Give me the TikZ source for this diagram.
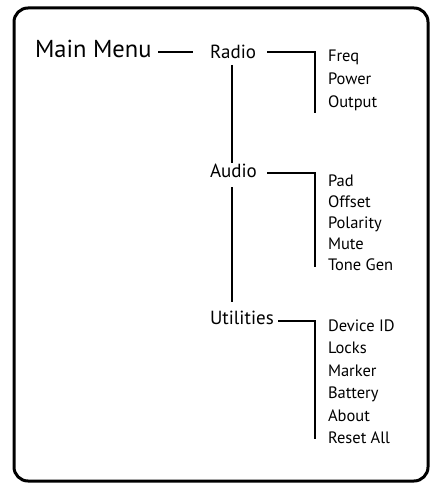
\documentclass[tikz,border=0pt]{standalone}
\usepackage{fontspec}
\setmainfont{PT Sans}
\begin{document}
\begin{tikzpicture}[x=1pt,y=-1pt,
  lbl/.style={anchor=base west,inner sep=0pt,outer sep=0pt},
  top/.style={lbl,font=\fontsize{24.5}{24.5}\selectfont},
  mid/.style={lbl,font=\fontsize{19}{19}\selectfont},
  leaf/.style={lbl,font=\fontsize{16.5}{16.5}\selectfont},
  conn/.style={line width=1.6pt}]
\useasboundingbox (0,0) rectangle (436,489);
\draw[line width=3pt,rounded corners=14pt] (14,8) rectangle (428,481);
\node[top] (main) at (35,58) {Main Menu};
\node[mid] (radio) at (210,59) {Radio};
\node[mid] (audio) at (210,177) {Audio};
\node[mid] (util) at (210,324) {Utilities};
\node[leaf] (freq) at (328,62) {Freq};
\node[leaf] (power) at (328,85) {Power};
\node[leaf] (output) at (328,108) {Output};
\node[leaf] (pad) at (328,186) {Pad};
\node[leaf] (offset) at (328,207) {Offset};
\node[leaf] (polarity) at (328,228) {Polarity};
\node[leaf] (mute) at (328,249) {Mute};
\node[leaf] (tone) at (328,270) {Tone Gen};
\node[leaf] (dev) at (328,331) {Device ID};
\node[leaf] (locks) at (328,353) {Locks};
\node[leaf] (marker) at (328,376) {Marker};
\node[leaf] (battery) at (328,398) {Battery};
\node[leaf] (about) at (328,421) {About};
\node[leaf] (reset) at (328,443) {Reset All};
\coordinate (rEnd) at (315,113);
\coordinate (aEnd) at (315,267);
\coordinate (uEnd) at (315,439);
\draw[conn] (158,52) -- (193,52);
\draw[conn] (267,52) -| (rEnd);
\draw[conn] (267,173) -| (aEnd);
\draw[conn] (278,321) -| (uEnd);
\draw[conn] (232,65) -- (232,163);
\draw[conn] (232,187) -- (232,302);
\end{tikzpicture}
\end{document}
